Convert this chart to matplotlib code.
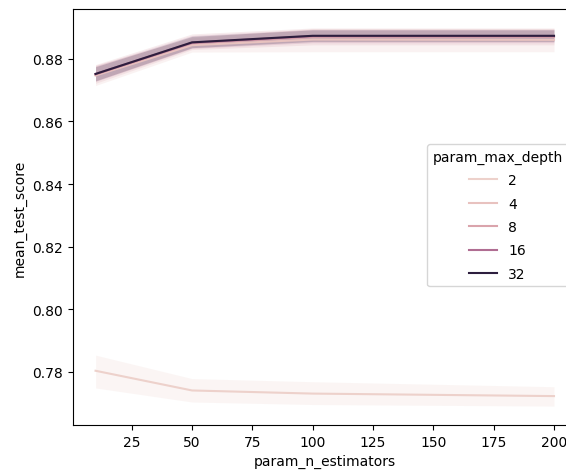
import numpy as np
import matplotlib.pyplot as plt
import matplotlib.colors as mcolors
import seaborn as sns

n_estimators = [10, 50, 100, 200]
max_depths = [2, 4, 8, 16, 32]

# mean test score per depth, and the lower / upper edge of its interval
mean_score = {
    2:  [0.7803, 0.7740, 0.7730, 0.7722],
    4:  [0.8747, 0.8844, 0.8862, 0.8861],
    8:  [0.8750, 0.8850, 0.8870, 0.8870],
    16: [0.8752, 0.8852, 0.8873, 0.8873],
    32: [0.8752, 0.8853, 0.8874, 0.8874],
}
ci_low = {
    2:  [0.7748, 0.7703, 0.7695, 0.7690],
    4:  [0.8715, 0.8822, 0.8823, 0.8823],
    8:  [0.8722, 0.8830, 0.8845, 0.8845],
    16: [0.8728, 0.8834, 0.8852, 0.8852],
    32: [0.8730, 0.8836, 0.8856, 0.8856],
}
ci_high = {
    2:  [0.7853, 0.7778, 0.7768, 0.7752],
    4:  [0.8780, 0.8868, 0.8897, 0.8897],
    8:  [0.8782, 0.8880, 0.8899, 0.8899],
    16: [0.8778, 0.8875, 0.8895, 0.8895],
    32: [0.8775, 0.8872, 0.8893, 0.8893],
}

cmap = sns.cubehelix_palette(as_cmap=True)
norm = mcolors.Normalize(vmin=min(max_depths), vmax=max(max_depths))

fig = plt.figure(figsize=(5.66, 4.77), dpi=100)
ax = fig.add_axes([0.1283, 0.1069, 0.891, 0.872])

handles = []
for d in max_depths:
    c = cmap(norm(d))
    line, = ax.plot(n_estimators, mean_score[d], color=c, lw=1.5, label=str(d))
    ax.fill_between(n_estimators, ci_low[d], ci_high[d], color=c, alpha=0.2, linewidth=0)
    handles.append(line)

ax.set_xlabel('param_n_estimators')
ax.set_ylabel('mean_test_score')
ax.set_xticks([25, 50, 75, 100, 125, 150, 175, 200])
ax.set_yticks([0.78, 0.80, 0.82, 0.84, 0.86, 0.88])

ax.legend(handles=handles, title='param_max_depth', loc='upper left',
          labelspacing=0.68, borderaxespad=0,
          bbox_to_anchor=(427 / 566, 1 - 145 / 477), bbox_transform=fig.transFigure)

fig.savefig('out.png', dpi=100)
